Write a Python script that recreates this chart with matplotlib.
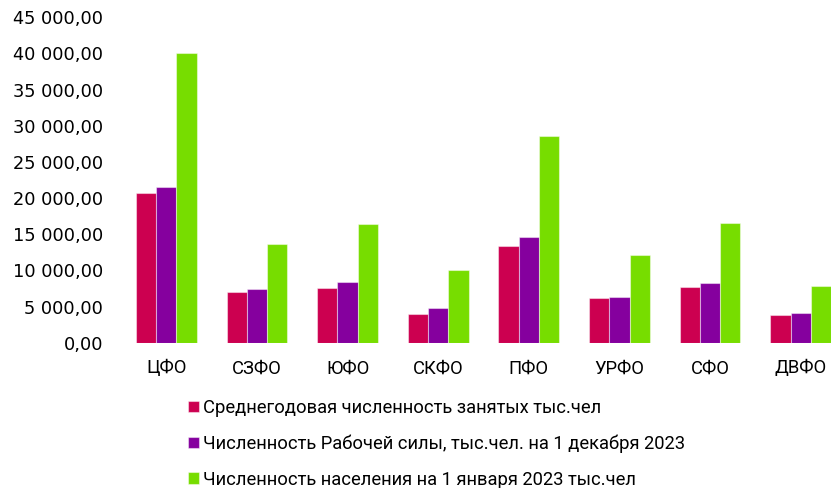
import numpy as np
import matplotlib
matplotlib.use('Agg')
import matplotlib.pyplot as plt
from matplotlib.ticker import FuncFormatter

# districts and series (тыс. чел)
districts = ['ЦФО', 'СЗФО', 'ЮФО', 'СКФО', 'ПФО', 'УРФО', 'СФО', 'ДВФО']
employed = [20700, 7000, 7570, 3970, 13370, 6140, 7700, 3830]
labour = [21600, 7470, 8400, 4750, 14600, 6280, 8200, 4070]
population = [40000, 13700, 16460, 10050, 28550, 12130, 16500, 7840]
series_names = ['Среднегодовая численность занятых тыс.чел',
                'Численность Рабочей силы, тыс.чел. на 1 декабря 2023',
                'Численность населения на 1 января 2023 тыс.чел']
colors = ['#CC0050', '#85009E', '#77DD00']

fig = plt.figure(figsize=(8.31, 4.88), dpi=100)
# plot area runs past the right edge of the picture, as in the original
ax = fig.add_axes([121/831, 1-342.7/488, (846-121)/831, (342.7-17.3)/488])

x = np.arange(len(districts))
w = 0.223
for i, vals in enumerate([employed, labour, population]):
    ax.bar(x + (i-1)*w, vals, w, color=colors[i], label=series_names[i],
           edgecolor=(1, 1, 1, 0.45), linewidth=0.8)

ax.set_xlim(-0.5, len(districts)-0.5)
ax.set_ylim(0, 45000)
ax.set_yticks(np.arange(0, 45001, 5000))

def fmt(v, pos):
    s = '{:,.2f}'.format(v).replace(',', ' ').replace('.', ',')
    return s

ax.yaxis.set_major_formatter(FuncFormatter(fmt))
ax.set_xticks(x)
ax.set_xticklabels(districts, fontfamily='Roboto', fontsize=13.2)
for lab in ax.get_yticklabels():
    lab.set_fontfamily('DejaVu Sans')
    lab.set_fontsize(12.8)
ax.tick_params(axis='both', length=0, colors='#000000')
ax.tick_params(axis='y', pad=13)
ax.tick_params(axis='x', pad=12)
for sp in ax.spines.values():
    sp.set_visible(False)

leg = fig.legend(loc='upper left', bbox_to_anchor=(188/831, 1-399/488),
                 frameon=False, ncol=1, borderpad=0, borderaxespad=0,
                 handlelength=0.6, handleheight=0.6,
                 handletextpad=0.22, labelspacing=0.96,
                 prop={'family': 'Roboto', 'size': 13.2})

fig.savefig('out.png', dpi=100)
